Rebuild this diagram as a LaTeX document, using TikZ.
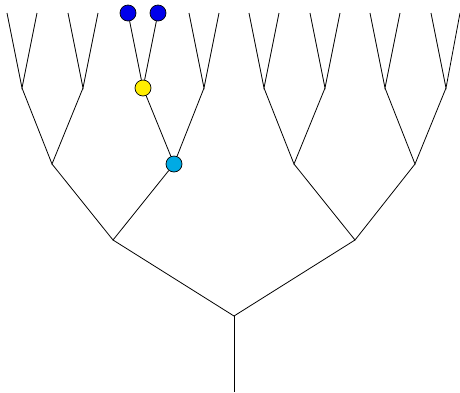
\documentclass[tikz,border=0pt]{standalone}
\usepackage{xcolor}
\usepackage{tikz}

\definecolor{dotblue}{RGB}{0,0,235}
\definecolor{dotyellow}{RGB}{255,238,0}
\definecolor{dotcyan}{RGB}{0,170,228}

\tikzset{
	edge/.style={line width=0.8pt, line join=miter},
	dot/.style={circle, draw, line width=0.7pt, inner sep=0pt, minimum size=16pt}
}

\begin{document}
\begin{tikzpicture}[x=1pt, y=-1pt]
	\useasboundingbox (0,0) rectangle (460,392);
	% trunk
	\coordinate (base) at (234,392);
	\coordinate (root) at (234,316);
	% first forks
	\coordinate (l) at (113,240);
	\coordinate (r) at (355,240);
	% second forks
	\coordinate (ll) at (52,164);
	\node[dot, fill=dotcyan] at (174,164) (lr) {};
	\coordinate (rl) at (294,164);
	\coordinate (rr) at (415,164);
	% third forks
	\coordinate (lll) at (22,88);
	\coordinate (llr) at (83,88);
	\node[dot, fill=dotyellow] at (143,88) (lrl) {};
	\coordinate (lrr) at (204,88);
	\coordinate (rll) at (264,88);
	\coordinate (rlr) at (325,88);
	\coordinate (rrl) at (385,88);
	\coordinate (rrr) at (446,88);
	% leaves
	\coordinate (llll) at (7,13);
	\coordinate (lllr) at (37,13);
	\coordinate (llrl) at (68,13);
	\coordinate (llrr) at (98,13);
	\node[dot, fill=dotblue] at (128,13) (lrll) {};
	\node[dot, fill=dotblue] at (158,13) (lrlr) {};
	\coordinate (lrrl) at (189,13);
	\coordinate (lrrr) at (219,13);
	\coordinate (rlll) at (249,13);
	\coordinate (rllr) at (279,13);
	\coordinate (rlrl) at (310,13);
	\coordinate (rlrr) at (340,13);
	\coordinate (rrll) at (370,13);
	\coordinate (rrlr) at (400,13);
	\coordinate (rrrl) at (431,13);
	\coordinate (rrrr) at (460,13);

	\draw[edge] (base) -- (root);
	\draw[edge] (l) -- (root) -- (r);
	\draw[edge] (ll) -- (l) -- (lr);
	\draw[edge] (rl) -- (r) -- (rr);
	\draw[edge] (lll) -- (ll) -- (llr);
	\draw[edge] (lrl) -- (lr) -- (lrr);
	\draw[edge] (rll) -- (rl) -- (rlr);
	\draw[edge] (rrl) -- (rr) -- (rrr);
	\draw[edge] (llll) -- (lll) -- (lllr);
	\draw[edge] (llrl) -- (llr) -- (llrr);
	\draw[edge] (lrll) -- (lrl) -- (lrlr);
	\draw[edge] (lrrl) -- (lrr) -- (lrrr);
	\draw[edge] (rlll) -- (rll) -- (rllr);
	\draw[edge] (rlrl) -- (rlr) -- (rlrr);
	\draw[edge] (rrll) -- (rrl) -- (rrlr);
	\draw[edge] (rrrl) -- (rrr) -- (rrrr);
\end{tikzpicture}
\end{document}
